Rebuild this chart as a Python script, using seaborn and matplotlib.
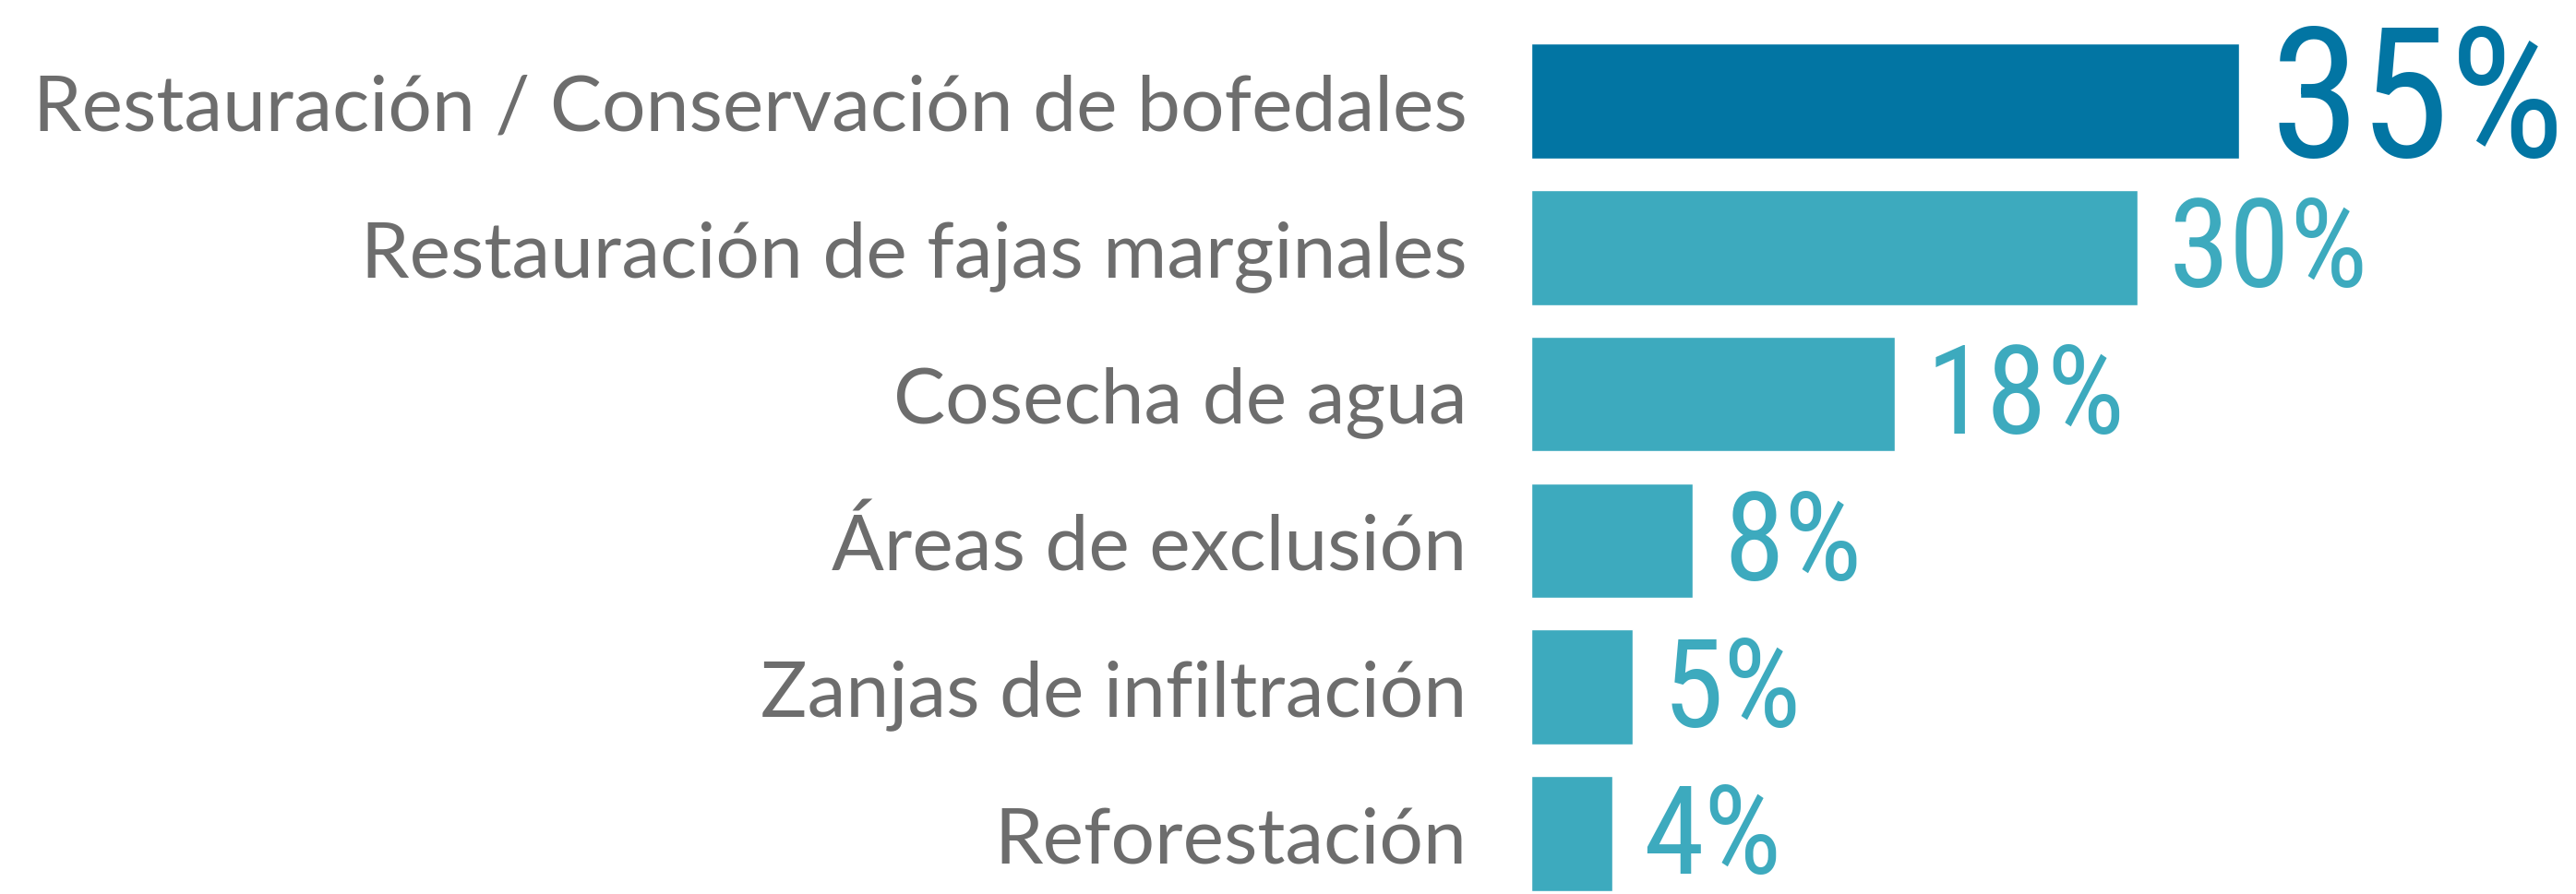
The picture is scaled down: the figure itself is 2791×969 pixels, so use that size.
import matplotlib
matplotlib.use("Agg")
import matplotlib.pyplot as plt
from matplotlib import font_manager
import seaborn as sns
import pandas as pd

# ---------- data ----------
categories = [
    "Restauración / Conservación de bofedales",
    "Restauración de fajas marginales",
    "Cosecha de agua",
    "Áreas de exclusión",
    "Zanjas de infiltración",
    "Reforestación",
]
values = [35, 30, 18, 8, 5, 4]
highlight = ["top", "rest", "rest", "rest", "rest", "rest"]

dark_blue = "#0275A3"
light_blue = "#3DAABE"
gray = "#6D6D6D"

df = pd.DataFrame({"cat": categories, "val": values, "grp": highlight})

# ---------- fonts ----------
names = {f.name for f in font_manager.fontManager.ttflist}
num_font = "Lato"
for cand in ["Roboto Condensed", "Open Sans Condensed", "Liberation Sans Narrow", "Roboto"]:
    if cand in names:
        num_font = cand
        break

sns.set_style("white")
plt.rcParams["font.family"] = ["Lato", "DejaVu Sans"]

# ---------- plot ----------
fig = plt.figure(figsize=(27.91, 9.70), dpi=100)
ax = fig.add_axes([1659 / 2791, 0, 1 - 1659 / 2791, 1])

sns.barplot(
    data=df, x="val", y="cat", hue="grp", orient="h",
    palette={"top": dark_blue, "rest": light_blue},
    width=0.785, dodge=False, legend=False, saturation=1, ax=ax,
)

ax.set_xlim(0, (2791 - 1659) / (767 / 35))
ax.set_ylim(5.412, -0.696)
ax.set_xlabel("")
ax.set_ylabel("")
ax.set_xticks([])
sns.despine(ax=ax, left=True, bottom=True)
ax.tick_params(axis="y", length=0, pad=50, labelsize=60.5, labelcolor=gray)

for i, v in enumerate(values):
    if i == 0:
        ax.annotate(f"{v}%", (v, i), xytext=(24, -4), textcoords="offset points",
                    ha="left", va="center", fontsize=142, color=dark_blue,
                    family=[num_font, "DejaVu Sans"])
    else:
        ax.annotate(f"{v}%", (v, i), xytext=(24, -4), textcoords="offset points",
                    ha="left", va="center", fontsize=96, color=light_blue,
                    family=[num_font, "DejaVu Sans"])

fig.savefig("out.png", dpi=100, facecolor="white")
